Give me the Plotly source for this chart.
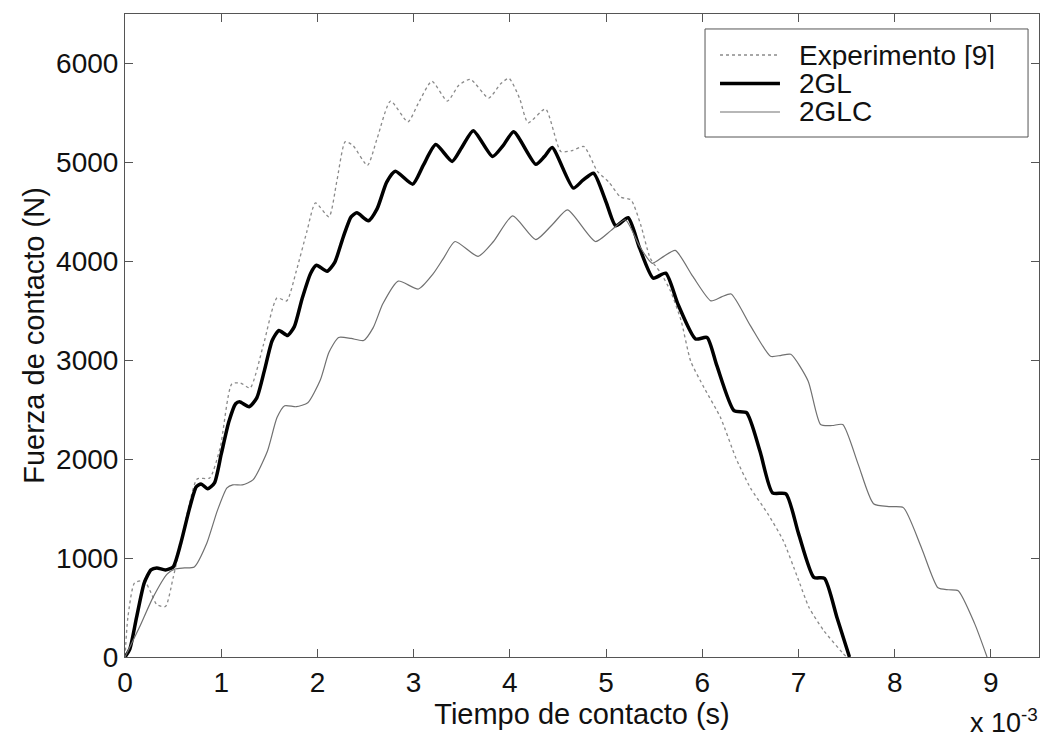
import plotly.graph_objects as go

# Tiempo de contacto (x 10^-3 s) y fuerza de contacto (N)
t_exp = [0, 0.03, 0.10, 0.20, 0.27, 0.33, 0.42, 0.50, 0.58, 0.67, 0.75, 0.88, 0.99,
         1.11, 1.20, 1.30, 1.44, 1.58, 1.68, 1.78, 1.89, 1.98, 2.12, 2.20, 2.29,
         2.37, 2.52, 2.62, 2.76, 2.94, 3.05, 3.19, 3.35, 3.47, 3.59, 3.78, 3.90,
         3.99, 4.10, 4.19, 4.37, 4.53, 4.65, 4.77, 4.91, 5.03, 5.15, 5.26, 5.36,
         5.46, 5.57, 5.67, 5.78, 5.88, 6.02, 6.19, 6.35, 6.50, 6.68, 6.84, 6.99,
         7.11, 7.26, 7.46, 7.50]
f_exp = [0, 400, 750, 770, 650, 530, 510, 800, 1150, 1550, 1800, 1810, 2120,
         2760, 2770, 2720, 3160, 3630, 3600, 3900, 4300, 4590, 4450, 4800, 5210,
         5170, 4970, 5240, 5620, 5410, 5600, 5820, 5620, 5780, 5840, 5650, 5790,
         5850, 5650, 5400, 5540, 5110, 5120, 5160, 4910, 4800, 4650, 4620, 4370,
         4030, 3880, 3700, 3400, 2990, 2720, 2420, 2010, 1710, 1450, 1180, 805,
         500, 270, 40, 0]

t_2gl = [0, 0.05, 0.12, 0.20, 0.27, 0.33, 0.42, 0.50, 0.58, 0.67, 0.74, 0.79,
         0.86, 0.93, 1.00, 1.08, 1.15, 1.19, 1.29, 1.37, 1.45, 1.53, 1.60, 1.69,
         1.76, 1.84, 1.93, 1.99, 2.10, 2.18, 2.27, 2.35, 2.41, 2.53, 2.62, 2.72,
         2.81, 2.99, 3.10, 3.23, 3.40, 3.50, 3.62, 3.82, 3.93, 4.04, 4.27, 4.36,
         4.44, 4.66, 4.76, 4.87, 5.00, 5.10, 5.23, 5.35, 5.49, 5.62, 5.75, 5.93,
         6.05, 6.15, 6.33, 6.46, 6.60, 6.73, 6.87, 7.00, 7.16, 7.27, 7.40, 7.53]
f_2gl = [0, 80, 400, 750, 880, 900, 880, 910, 1150, 1500, 1720, 1750,
         1700, 1760, 2050, 2380, 2560, 2580, 2530, 2620, 2900, 3200, 3300, 3250,
         3340, 3620, 3880, 3960, 3900, 3990, 4250, 4450, 4490, 4410, 4530, 4800,
         4910, 4780, 4970, 5180, 5010, 5150, 5320, 5060, 5170, 5310, 4980, 5060,
         5150, 4740, 4820, 4890, 4600, 4360, 4440, 4130, 3830, 3880, 3560, 3215,
         3230, 2950, 2490, 2470, 2080, 1660, 1650, 1250, 805, 795, 400, 0]

t_2glc = [0, 0.15, 0.29, 0.44, 0.52, 0.62, 0.72, 0.85, 0.96, 1.06, 1.12, 1.22,
          1.33, 1.48, 1.58, 1.66, 1.78, 1.90, 2.03, 2.12, 2.22, 2.35, 2.48, 2.58,
          2.68, 2.84, 3.05, 3.20, 3.31, 3.43, 3.67, 3.83, 4.03, 4.27, 4.45, 4.60,
          4.89, 5.05, 5.20, 5.35, 5.48, 5.60, 5.72, 5.90, 6.09, 6.20, 6.30, 6.50,
          6.71, 6.82, 6.92, 7.10, 7.23, 7.35, 7.46, 7.62, 7.78, 7.95, 8.09, 8.28,
          8.45, 8.56, 8.66, 8.83, 8.96]
f_2glc = [0, 300, 600, 840, 890, 900, 910, 1150, 1480, 1710, 1740, 1740,
          1790, 2080, 2420, 2540, 2530, 2570, 2800, 3080, 3230, 3220, 3200, 3330,
          3570, 3800, 3720, 3870, 4030, 4200, 4050, 4200, 4460, 4220, 4380, 4520,
          4200, 4310, 4420, 4150, 3980, 4050, 4110, 3850, 3600, 3640, 3670, 3350,
          3040, 3050, 3060, 2790, 2350, 2340, 2350, 1950, 1550, 1520, 1510, 1100,
          700, 680, 670, 340, 0]

x_ticks = [0, 1, 2, 3, 4, 5, 6, 7, 8, 9]
y_ticks = [0, 1000, 2000, 3000, 4000, 5000, 6000]

FONT = "Liberation Sans, Arial, sans-serif"
TXT = "#111111"
AX = "#555555"

series = [
    dict(x=t_exp, y=f_exp, name="Experimento [9]",
         line=dict(color="#8a8a8a", width=1.3, dash="3px,3px")),
    dict(x=t_2gl, y=f_2gl, name="2GL",
         line=dict(color="#000000", width=3.5)),
    dict(x=t_2glc, y=f_2glc, name="2GLC",
         line=dict(color="#707070", width=1.2)),
]

fig = go.Figure()
for s in series:
    fig.add_trace(go.Scatter(
        x=s["x"], y=s["y"], mode="lines", name=s["name"], showlegend=False,
        line=dict(shape="spline", smoothing=0.6, **s["line"]),
    ))

axis_common = dict(
    showgrid=False, zeroline=False, showline=True, linecolor=AX, linewidth=1,
    mirror="ticks", ticks="inside", ticklen=8, tickcolor=AX,
    tickfont=dict(family=FONT, size=28, color=TXT),
)

fig.update_xaxes(
    range=[0, 9.5], tickvals=x_ticks, ticktext=[str(v) for v in x_ticks],
    title=dict(text="Tiempo de contacto (s)", font=dict(family=FONT, size=29, color=TXT),
               standoff=4),
    **axis_common,
)
fig.update_yaxes(
    range=[0, 6500], tickvals=y_ticks, ticktext=[str(v) for v in y_ticks],
    title=dict(text="Fuerza de contacto (N)", font=dict(family=FONT, size=29, color=TXT),
               standoff=2),
    **axis_common,
)

# multiplicador del eje de tiempo
fig.add_annotation(
    xref="paper", yref="paper", x=1.0, y=-0.127, xanchor="right", yanchor="bottom",
    text="x 10<sup>-3</sup>", showarrow=False, borderpad=0,
    font=dict(family=FONT, size=27, color=TXT),
)

# leyenda en recuadro (esquina superior derecha)
fig.add_shape(type="rect", xref="paper", yref="paper",
              x0=0.6346, x1=0.988, y0=0.8087, y1=0.9767,
              line=dict(color=AX, width=1), fillcolor="white", layer="above")
row_y = [0.9362, 0.8920, 0.8476]
for s, yy in zip(series, row_y):
    fig.add_shape(type="line", xref="paper", yref="paper",
                  x0=0.651, x1=0.7166, y0=yy, y1=yy,
                  line=s["line"], layer="above")
    fig.add_annotation(
        xref="paper", yref="paper", x=0.7352, y=yy, xanchor="left", yanchor="middle",
        text=s["name"], showarrow=False, height=27, valign="middle",
        font=dict(family=FONT, size=28, color=TXT),
    )

fig.update_layout(
    width=1042, height=743,
    margin=dict(l=125, r=3, t=14, b=86),
    paper_bgcolor="white", plot_bgcolor="white",
    showlegend=False,
)

fig.write_html("out.html")
